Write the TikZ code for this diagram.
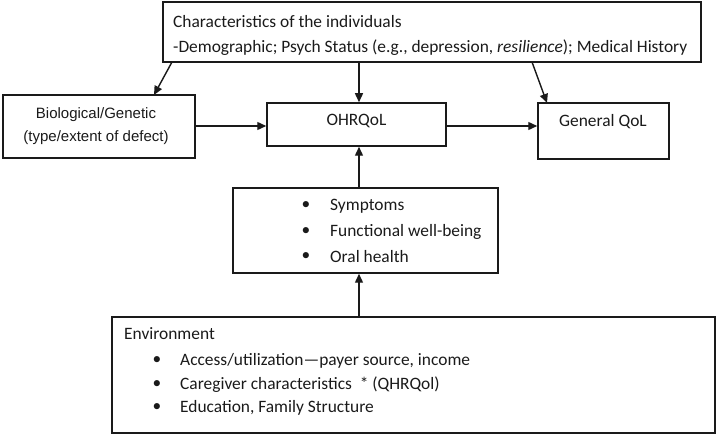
\documentclass[tikz,border=0pt]{standalone}
\usepackage{fontspec}
\setmainfont{Carlito}
\newfontfamily\arialf{Liberation Sans}
\usetikzlibrary{arrows.meta}
\definecolor{ink}{HTML}{1A1A1A}
\begin{document}
\begin{tikzpicture}[x=1pt,y=-1pt,
  box/.style={draw=ink,line width=1.5pt,rectangle,inner sep=0pt},
  txt/.style={inner sep=0pt,text=ink,font=\fontsize{17.4}{20}\selectfont},
  btxt/.style={inner sep=0pt,text=ink,font=\arialf\fontsize{15}{18}\selectfont},
  arr/.style={draw=ink,line width=1.4pt,-{Triangle[length=9pt,width=8pt]}}]
\useasboundingbox (0,0) rectangle (716,435);
% boxes
\node[box,minimum width=538pt,minimum height=60pt] (top) at (432,32) {};
\node[box,minimum width=192pt,minimum height=63pt] (bio) at (99,126.5) {};
\node[box,minimum width=179pt,minimum height=43pt] (ohr) at (356.5,124.5) {};
\node[box,minimum width=131pt,minimum height=56pt] (gen) at (603.5,131) {};
\node[box,minimum width=265pt,minimum height=85pt] (mid) at (365.5,230.5) {};
\node[box,minimum width=603pt,minimum height=116pt] (env) at (413.5,375) {};
% texts
\node[txt,anchor=west] (t1) at (173,22) {Characteristics of the individuals};
\node[txt,anchor=west] (t2) at (173,48) {-Demographic; Psych Status (e.g., depression, \textit{resilience}); Medical History};
\node[btxt] (b1) at (96,115) {Biological/Genetic};
\node[btxt] (b2) at (96,138) {(type/extent of defect)};
\node[txt] (o1) at (356.5,121) {OHRQoL};
\node[txt] (g1) at (603,122) {General QoL};
\node[txt] (m1b) at (306,206) {\textbullet};
\node[txt,anchor=west] (m1) at (330,206) {Symptoms};
\node[txt] (m2b) at (306,232) {\textbullet};
\node[txt,anchor=west] (m2) at (330,232) {Functional well-being};
\node[txt] (m3b) at (306,257) {\textbullet};
\node[txt,anchor=west] (m3) at (330,257) {Oral health};
\node[txt,anchor=west] (e0) at (124,334) {Environment};
\node[txt] (e1b) at (157,361) {\textbullet};
\node[txt,anchor=west] (e1) at (180,361) {Access/utilization—payer source, income};
\node[txt] (e2b) at (157,385) {\textbullet};
\node[txt,anchor=west] (e2) at (180,385) {Caregiver characteristics \ * (QHRQol)};
\node[txt] (e3b) at (157,408) {\textbullet};
\node[txt,anchor=west] (e3) at (180,408) {Education, Family Structure};
% connector coordinates
\coordinate (v) at (359,0);
\coordinate (h) at (0,126);
\coordinate (s1) at (172,62);
\coordinate (e1a) at (154,95);
\coordinate (s3) at (532,62);
\coordinate (e3a) at (547,103);
% connectors
\draw[arr] (s1) -- (e1a);
\draw[arr] (top.south -| v) -- (ohr.north -| v);
\draw[arr] (s3) -- (e3a);
\draw[arr] (bio.east |- h) -- (ohr.west |- h);
\draw[arr] (ohr.east |- h) -- (gen.west |- h);
\draw[arr] (mid.north -| v) -- (ohr.south -| v);
\draw[arr] (env.north -| v) -- (mid.south -| v);
\end{tikzpicture}
\end{document}
